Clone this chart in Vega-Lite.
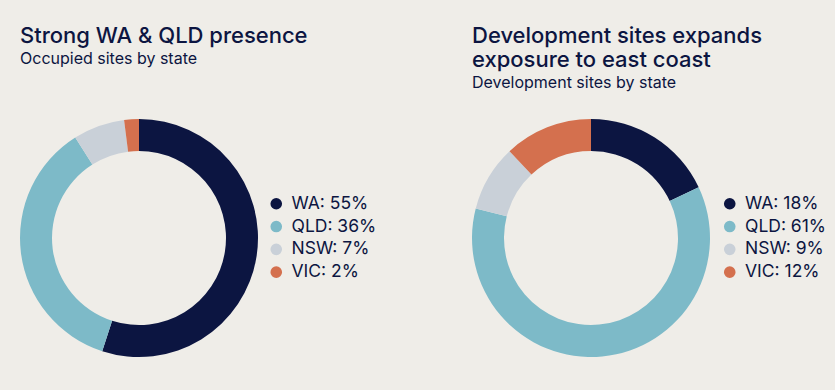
{
  "$schema": "https://vega.github.io/schema/vega-lite/v6.json",
  "background": "#efede8",
  "padding": {"left": 20, "top": 25, "right": 20, "bottom": 40},
  "datasets": {
    "occ": [
      {"state": "WA", "label": "WA: 55%", "value": 55, "order": 1},
      {"state": "QLD", "label": "QLD: 36%", "value": 36, "order": 2},
      {"state": "NSW", "label": "NSW: 7%", "value": 7, "order": 3},
      {"state": "VIC", "label": "VIC: 2%", "value": 2, "order": 4}
    ],
    "dev": [
      {"state": "WA", "label": "WA: 18%", "value": 18, "order": 1},
      {"state": "QLD", "label": "QLD: 61%", "value": 61, "order": 2},
      {"state": "NSW", "label": "NSW: 9%", "value": 9, "order": 3},
      {"state": "VIC", "label": "VIC: 12%", "value": 12, "order": 4}
    ]
  },
  "config": {
    "view": {"stroke": null},
    "font": "Inter",
    "title": {
      "anchor": "start",
      "font": "Inter",
      "fontSize": 22,
      "fontWeight": 500,
      "color": "#0c1541",
      "lineHeight": 24,
      "subtitleFont": "Inter",
      "subtitleFontSize": 16,
      "subtitleColor": "#0c1541",
      "subtitlePadding": 3
    },
    "legend": {
      "title": null,
      "orient": "none",
      "symbolType": "circle",
      "symbolSize": 135,
      "symbolStrokeWidth": 0,
      "labelFont": "Inter",
      "labelFontSize": 17.5,
      "labelColor": "#0c1541",
      "labelOffset": 6.5,
      "rowPadding": 3.8
    }
  },
  "spacing": 95,
  "hconcat": [
    {
      "width": 238,
      "height": 238,
      "title": {"text": "Strong WA & QLD presence", "subtitle": "Occupied sites by state", "offset": 51},
      "data": {"name": "occ"},
      "mark": {"type": "arc", "outerRadius": 119, "innerRadius": 87},
      "encoding": {
        "theta": {"field": "value", "type": "quantitative", "stack": true},
        "order": {"field": "order", "type": "quantitative"},
        "color": {
          "field": "label",
          "type": "nominal",
          "scale": {"domain": ["WA: 55%", "QLD: 36%", "NSW: 7%", "VIC: 2%"], "range": ["#0c1541", "#7dbac8", "#c9d0d8", "#d4704e"]},
          "legend": {"legendX": 247.5, "legendY": 76}
        }
      }
    },
    {
      "width": 238,
      "height": 238,
      "title": {"text": ["Development sites expands", "exposure to east coast"], "subtitle": "Development sites by state", "offset": 27},
      "data": {"name": "dev"},
      "mark": {"type": "arc", "outerRadius": 119, "innerRadius": 87},
      "encoding": {
        "theta": {"field": "value", "type": "quantitative", "stack": true},
        "order": {"field": "order", "type": "quantitative"},
        "color": {
          "field": "label",
          "type": "nominal",
          "scale": {"domain": ["WA: 18%", "QLD: 61%", "NSW: 9%", "VIC: 12%"], "range": ["#0c1541", "#7dbac8", "#c9d0d8", "#d4704e"]},
          "legend": {"legendX": 249, "legendY": 76}
        }
      }
    }
  ],
  "resolve": {"scale": {"color": "independent", "theta": "independent"}, "legend": {"color": "independent"}}
}
